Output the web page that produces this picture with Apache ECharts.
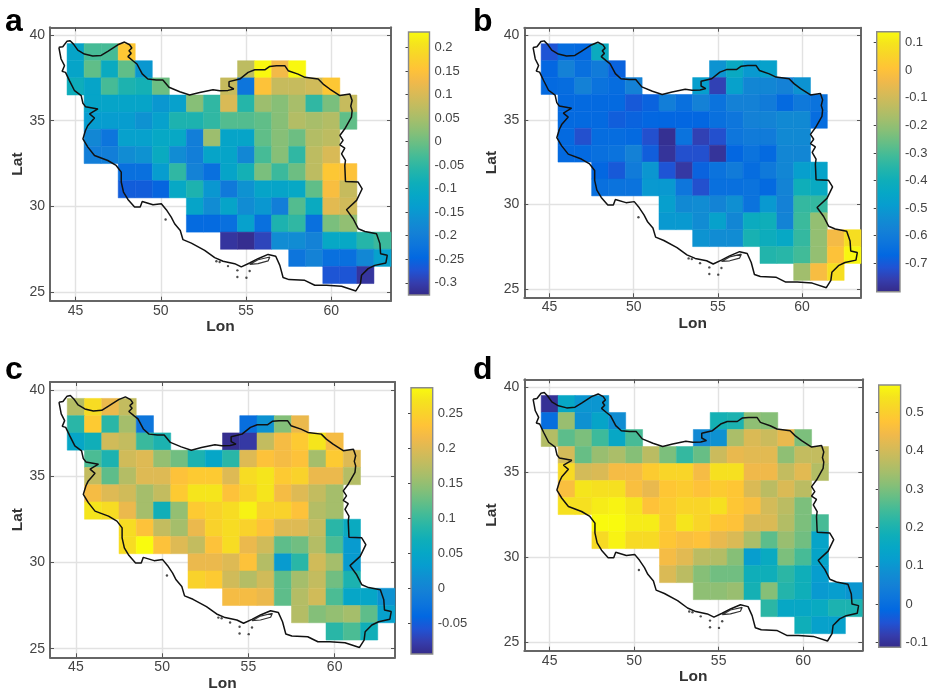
<!DOCTYPE html>
<html><head><meta charset="utf-8">
<script src="https://cdn.jsdelivr.net/npm/echarts@6/dist/echarts.min.js"></script>
<style>html,body{margin:0;background:#fff}#c{width:931px;height:694px}#c canvas{filter:blur(0.5px)}</style></head>
<body><div id="c"></div>
<script>
const rowLats=[39,38,37,36,35,34,33,32,31,30,29,28,27,26];
const rowSpans=[[[45,48]],[[45,49],[55,58]],[[45,50],[54,60]],[[46,61]],[[46,61]],[[46,60]],[[46,60]],[[48,61]],[[48,61]],[[52,61]],[[52,61]],[[54,63]],[[58,63]],[[60,62]]];
const valuesA=[
[-0.12,-0.03,-0.03,0.16],
[-0.12,-0.01,-0.1,-0.01,-0.15,0.07,0.23,0.13,0.23],
[-0.09,-0.12,-0.03,-0.07,-0.08,0.0,0.08,-0.22,0.15,0.08,0.08,0.09,0.16],
[-0.12,-0.12,-0.12,-0.12,-0.15,-0.13,0.02,-0.05,0.1,-0.06,0.04,0.02,0.05,-0.05,0.01,0.08],
[-0.14,-0.14,-0.14,-0.16,-0.13,-0.07,-0.07,-0.05,-0.02,-0.02,-0.01,0.02,0.06,0.05,0.06,-0.01],
[-0.18,-0.22,-0.13,-0.13,-0.11,-0.11,-0.2,0.04,-0.12,-0.12,-0.01,0.02,0.0,0.06,0.07],
[-0.2,-0.2,-0.17,-0.16,-0.1,-0.17,-0.2,-0.12,-0.12,-0.18,-0.03,0.02,-0.05,0.07,0.1],
[-0.23,-0.23,-0.14,-0.05,-0.19,-0.23,-0.12,-0.08,0.01,-0.04,0.0,0.07,0.16,0.15],
[-0.26,-0.26,-0.25,-0.11,-0.07,-0.15,-0.21,-0.16,-0.12,-0.12,-0.11,-0.01,0.14,0.08],
[-0.12,-0.17,-0.12,-0.17,-0.15,-0.2,-0.02,-0.1,0.11,0.09],
[-0.24,-0.24,-0.23,-0.13,-0.23,-0.07,-0.05,-0.23,0.01,0.03],
[-0.31,-0.32,-0.29,-0.17,-0.17,-0.19,-0.11,-0.11,-0.06,-0.04],
[-0.22,-0.19,-0.23,-0.23,-0.18,-0.13],
[-0.27,-0.27,-0.31]];
const valuesB=[
[-0.71,-0.65,-0.66,-0.42],
[-0.67,-0.58,-0.64,-0.6,-0.68,-0.52,-0.43,-0.5,-0.47],
[-0.66,-0.65,-0.58,-0.63,-0.65,-0.58,-0.48,-0.75,-0.47,-0.56,-0.56,-0.58,-0.52],
[-0.66,-0.66,-0.66,-0.66,-0.7,-0.68,-0.59,-0.64,-0.58,-0.63,-0.58,-0.58,-0.6,-0.66,-0.61,-0.63],
[-0.66,-0.66,-0.66,-0.69,-0.68,-0.67,-0.67,-0.67,-0.67,-0.64,-0.62,-0.58,-0.57,-0.55,-0.55,-0.65],
[-0.66,-0.72,-0.65,-0.65,-0.66,-0.72,-0.79,-0.63,-0.75,-0.72,-0.62,-0.6,-0.6,-0.55,-0.55],
[-0.66,-0.66,-0.64,-0.63,-0.58,-0.69,-0.78,-0.72,-0.72,-0.78,-0.67,-0.63,-0.66,-0.56,-0.56],
[-0.67,-0.7,-0.6,-0.51,-0.71,-0.77,-0.68,-0.63,-0.6,-0.65,-0.61,-0.56,-0.48,-0.46],
[-0.64,-0.63,-0.63,-0.5,-0.5,-0.62,-0.72,-0.64,-0.64,-0.63,-0.66,-0.57,-0.4,-0.43],
[-0.48,-0.55,-0.54,-0.57,-0.53,-0.63,-0.5,-0.58,-0.33,-0.33],
[-0.5,-0.5,-0.54,-0.47,-0.56,-0.42,-0.4,-0.57,-0.32,-0.2],
[-0.52,-0.54,-0.54,-0.38,-0.41,-0.44,-0.33,-0.2,-0.03,0.08],
[-0.36,-0.35,-0.31,-0.2,0.0,0.13],
[-0.18,-0.02,0.08]];
const valuesC=[
[0.17,0.26,0.21,0.18],
[0.09,0.24,0.09,0.16,-0.02,-0.03,0.02,0.14,0.21],
[0.05,0.07,0.19,0.18,0.1,0.08,-0.09,-0.08,0.18,0.22,0.24,0.27,0.22],
[0.11,0.08,0.19,0.2,0.15,0.13,0.08,0.05,0.09,0.2,0.23,0.22,0.23,0.16,0.24,0.2],
[0.18,0.12,0.17,0.2,0.2,0.23,0.24,0.24,0.2,0.26,0.27,0.24,0.25,0.21,0.21,0.17],
[0.22,0.2,0.19,0.16,0.18,0.24,0.27,0.27,0.23,0.25,0.27,0.22,0.2,0.18,0.16],
[0.27,0.26,0.21,0.16,0.07,0.15,0.24,0.25,0.26,0.28,0.25,0.25,0.23,0.17,0.16],
[0.26,0.23,0.18,0.16,0.21,0.25,0.26,0.25,0.23,0.2,0.2,0.18,0.09,0.06],
[0.26,0.29,0.23,0.2,0.18,0.23,0.26,0.21,0.19,0.12,0.13,0.17,0.11,0.03],
[0.21,0.21,0.2,0.23,0.17,0.03,0.09,0.19,0.16,0.03],
[0.25,0.24,0.19,0.17,0.19,0.12,0.16,0.18,0.13,0.08],
[0.22,0.22,0.21,0.12,0.17,0.19,0.11,0.05,0.05,0.02],
[0.17,0.14,0.15,0.16,0.12,0.04],
[0.09,0.11,0.07]];
const valuesD=[
[-0.1,0.15,0.1,0.1],
[0.0,0.33,0.09,0.14,0.08,0.19,0.2,0.32,0.31],
[0.36,0.27,0.3,0.24,0.15,0.25,0.07,0.09,0.35,0.41,0.39,0.43,0.3],
[0.4,0.28,0.33,0.35,0.31,0.37,0.3,0.23,0.28,0.39,0.43,0.42,0.42,0.32,0.38,0.38],
[0.52,0.4,0.41,0.45,0.45,0.49,0.51,0.51,0.45,0.53,0.53,0.44,0.44,0.38,0.42,0.36],
[0.46,0.54,0.53,0.53,0.46,0.43,0.48,0.49,0.47,0.49,0.48,0.41,0.37,0.41,0.37],
[0.53,0.53,0.55,0.56,0.54,0.47,0.49,0.51,0.51,0.53,0.48,0.46,0.4,0.37,0.3],
[0.57,0.57,0.55,0.55,0.49,0.54,0.51,0.48,0.47,0.41,0.41,0.36,0.3,0.25],
[0.52,0.56,0.52,0.52,0.48,0.46,0.47,0.43,0.41,0.35,0.27,0.33,0.29,0.14],
[0.45,0.42,0.37,0.36,0.31,0.12,0.16,0.3,0.25,0.14],
[0.41,0.37,0.31,0.29,0.29,0.18,0.18,0.22,0.18,0.12],
[0.32,0.32,0.33,0.19,0.31,0.21,0.18,0.11,0.12,0.1],
[0.22,0.15,0.15,0.16,0.2,0.2],
[0.18,0.13,0.13]];
const lonTicks=[45,50,55,60];
const latTicks=[25,30,35,40];
const cbTicksA=[-0.3,-0.25,-0.2,-0.15,-0.1,-0.05,0,0.05,0.1,0.15,0.2];
const cbTicksB=[-0.7,-0.6,-0.5,-0.4,-0.3,-0.2,-0.1,0,0.1];
const cbTicksC=[-0.05,0,0.05,0.1,0.15,0.2,0.25];
const cbTicksD=[-0.1,0,0.1,0.2,0.3,0.4,0.5];
const cbRangeA=[-0.326,0.233];
const cbRangeB=[-0.803,0.14];
const cbRangeC=[-0.094,0.287];
const cbRangeD=[-0.112,0.571];
const parula=['#352a87','#353dad','#2053d4','#0268e1','#0d75dc','#1481d6','#108ed2','#079dcf','#06a7c6','#0faeb9','#25b5a9','#42bb98','#65be86','#87bf77','#a5be6b','#c0bc60','#d9ba56','#f1b94a','#ffc337','#f9d32a','#f5e41d','#f9fb0e'];
const border=[[44.02,39.28],[44.25,39.32],[44.49,39.63],[44.68,39.67],[44.88,39.47],[45.13,39.12],[45.52,38.89],[46.01,38.77],[46.50,38.81],[46.89,39.05],[47.48,39.43],[47.87,39.59],[48.17,39.43],[48.30,39.24],[48.13,39.08],[48.26,38.93],[48.07,38.74],[48.36,38.50],[48.60,38.31],[48.91,37.73],[49.24,37.43],[49.73,37.38],[50.12,37.38],[50.48,36.95],[51.11,36.69],[51.69,36.50],[52.28,36.65],[53.06,36.81],[53.46,36.75],[53.94,36.77],[54.28,36.85],[54.0,37.0],[54.0,37.28],[54.63,37.43],[55.12,37.82],[55.51,37.97],[56.10,37.97],[56.39,38.17],[56.78,38.21],[57.27,38.21],[57.47,37.92],[58.05,37.72],[58.45,37.53],[59.23,37.43],[59.52,37.14],[59.91,36.85],[60.50,36.47],[61.09,36.56],[61.22,36.18],[61.14,35.85],[61.22,35.59],[61.18,35.21],[60.79,34.53],[60.50,34.14],[60.69,33.85],[60.50,33.59],[60.79,33.40],[60.60,33.07],[60.83,32.68],[60.79,32.39],[60.83,31.46],[61.57,31.42],[61.81,31.03],[61.48,30.35],[60.89,29.81],[61.28,29.28],[61.58,28.70],[61.97,28.54],[62.65,28.41],[62.85,27.83],[62.89,27.24],[63.28,27.15],[63.20,26.70],[62.55,26.56],[62.16,26.37],[61.77,25.98],[61.71,25.50],[61.44,25.07],[60.60,25.34],[59.72,25.40],[59.03,25.40],[58.44,25.69],[57.52,25.73],[57.17,25.85],[56.98,26.56],[56.74,27.09],[56.29,27.20],[55.70,26.95],[55.21,26.70],[54.72,26.47],[54.33,26.66],[53.65,26.80],[53.16,27.01],[52.57,27.44],[51.79,27.86],[51.30,28.06],[51.14,28.60],[50.81,28.99],[50.61,29.38],[50.32,29.81],[50.03,30.16],[49.54,30.10],[48.91,30.29],[48.79,29.96],[48.46,29.96],[48.07,30.41],[47.81,30.84],[47.68,31.42],[47.68,32.0],[47.38,32.39],[46.89,32.68],[46.11,32.97],[45.72,33.46],[45.43,33.94],[45.58,34.43],[45.72,34.72],[46.11,35.16],[45.82,35.40],[46.31,35.69],[45.58,35.82],[45.43,36.02],[45.33,36.46],[44.94,36.75],[44.64,37.34],[44.41,37.82],[44.21,37.88],[44.35,38.21],[44.15,38.6],[44.02,39.28]];
const qeshm=[[55.21,26.62],[55.70,26.89],[56.39,27.05],[56.29,26.82],[55.70,26.66],[55.21,26.62]];
const islands=[[50.28,29.24],[53.26,26.80],[53.45,26.76],[53.94,26.52],[54.49,26.27],[54.49,25.88],[55.02,25.84],[55.21,26.23]];

const panels=[
 {label:'a',labelX:0,labelY:1,values:valuesA,ticks:cbTicksA,range:cbRangeA,box:[50,27.3,341,273.4],cb:[408.5,32,21,263]},
 {label:'b',labelX:468,labelY:1,values:valuesB,ticks:cbTicksB,range:cbRangeB,box:[524.3,27.7,336.7,269.6],cb:[876.7,31.7,23.3,260]},
 {label:'c',labelX:0,labelY:349,values:valuesC,ticks:cbTicksC,range:cbRangeC,box:[50,382,345,275.3],cb:[411,387.7,21.7,266.3]},
 {label:'d',labelX:468,labelY:349,values:valuesD,ticks:cbTicksD,range:cbRangeD,box:[524.3,379.3,338,271.4],cb:[878.7,385,22,262.3]}
];
const FONT='"Liberation Sans",Arial,sans-serif';
const grid=[],xAxis=[],yAxis=[],series=[],visualMap=[],title=[];
const frame={show:true,lineStyle:{color:'#666',width:2}};
panels.forEach(p=>{
  const g=grid.length;
  grid.push({left:p.box[0],top:p.box[1],width:p.box[2],height:p.box[3],show:false,containLabel:false});
  grid.push({left:p.cb[0],top:p.cb[1],width:p.cb[2],height:p.cb[3],show:false,containLabel:false});
  const xi=xAxis.length, yi=yAxis.length;
  const xBase={type:'value',min:43.5,max:63.5,gridIndex:g};
  const yBase={type:'value',min:24.5,max:40.45,gridIndex:g};
  const tick=(vals)=>({show:true,inside:true,length:4,customValues:vals,lineStyle:{color:'#555',width:1}});
  xAxis.push({...xBase,position:'bottom',name:'Lon',nameLocation:'middle',nameGap:18,
    nameTextStyle:{fontFamily:FONT,fontWeight:'bold',fontSize:15.5,color:'#333'},
    axisLine:{...frame,onZero:false},axisTick:tick(lonTicks),
    axisLabel:{customValues:lonTicks,margin:3,fontFamily:FONT,fontSize:14,color:'#444'},
    splitLine:{show:true,lineStyle:{color:'#e2e2e2',width:1.4}}});
  xAxis.push({...xBase,position:'top',axisLine:{...frame,onZero:false},axisTick:tick(lonTicks),
    axisLabel:{show:false},splitLine:{show:false}});
  yAxis.push({...yBase,position:'left',name:'Lat',nameLocation:'middle',nameGap:22,
    nameTextStyle:{fontFamily:FONT,fontWeight:'bold',fontSize:15.5,color:'#333'},
    axisLine:{...frame,onZero:false},axisTick:tick(latTicks),
    axisLabel:{customValues:latTicks,margin:5,fontFamily:FONT,fontSize:14,color:'#444'},
    splitLine:{show:true,lineStyle:{color:'#e2e2e2',width:1.4}}});
  yAxis.push({...yBase,position:'right',axisLine:{...frame,onZero:false},axisTick:tick(latTicks),
    axisLabel:{show:false},splitLine:{show:false}});
  const cxi=xAxis.length, cyi=yAxis.length;
  xAxis.push({type:'value',gridIndex:g+1,min:0,max:1,show:false});
  yAxis.push({type:'value',gridIndex:g+1,min:p.range[0],max:p.range[1],position:'right',
    axisLine:{show:false},splitLine:{show:false},
    axisTick:{show:true,inside:true,length:3,customValues:p.ticks,lineStyle:{color:'#444',width:1}},
    axisLabel:{customValues:p.ticks,margin:5,fontFamily:FONT,fontSize:13,color:'#444',formatter:v=>String(v)}});
  const data=[];
  rowLats.forEach((lat,r)=>{
    let k=0;
    rowSpans[r].forEach(s=>{for(let lon=s[0];lon<=s[1];lon++){data.push([lon,lat,p.values[r][k++]]);}});
  });
  const si=series.length;
  series.push({type:'custom',xAxisIndex:xi,yAxisIndex:yi,data,encode:{x:0,y:1},z:3,silent:true,animation:false,
    renderItem:(params,api)=>{
      const a=api.coord([api.value(0)-0.5,api.value(1)+0.5]);
      const b=api.coord([api.value(0)+0.5,api.value(1)-0.5]);
      const c=api.visual('color');
      return {type:'rect',shape:{x:a[0],y:a[1],width:b[0]-a[0],height:b[1]-a[1]},style:{fill:c,stroke:c,lineWidth:0.5}};
    }});
  visualMap.push({show:false,type:'continuous',seriesIndex:si,dimension:2,min:p.range[0],max:p.range[1],inRange:{color:parula}});
  series.push({type:'line',xAxisIndex:xi,yAxisIndex:yi,data:border,showSymbol:false,symbol:'none',z:5,silent:true,animation:false,
    lineStyle:{color:'#111',width:1.5}});
  series.push({type:'line',xAxisIndex:xi,yAxisIndex:yi,data:qeshm,showSymbol:false,symbol:'none',z:5,silent:true,animation:false,
    lineStyle:{color:'#333',width:1.2}});
  series.push({type:'scatter',xAxisIndex:xi,yAxisIndex:yi,data:islands,symbolSize:2.4,z:5,silent:true,animation:false,
    itemStyle:{color:'#222'}});
  series.push({type:'custom',xAxisIndex:cxi,yAxisIndex:cyi,data:[[0,p.range[0],1,p.range[1]]],z:3,silent:true,animation:false,
    renderItem:(params,api)=>{
      const a=api.coord([api.value(0),api.value(3)]);
      const b=api.coord([api.value(2),api.value(1)]);
      return {type:'rect',shape:{x:a[0],y:a[1],width:b[0]-a[0],height:b[1]-a[1]},
        style:{stroke:'#8a8a8a',lineWidth:1.4,fill:{type:'linear',x:0,y:1,x2:0,y2:0,
          colorStops:parula.map((c,i)=>({offset:i/(parula.length-1),color:c}))}}};
    }});
  title.push({text:p.label,left:p.labelX,top:p.labelY,textStyle:{fontFamily:FONT,fontWeight:'bold',fontSize:32,color:'#000'}});
});
const chart=echarts.init(document.getElementById('c'),null,{renderer:'canvas'});
chart.setOption({animation:false,backgroundColor:'#fff',title,grid,xAxis,yAxis,series,visualMap});
</script></body></html>
